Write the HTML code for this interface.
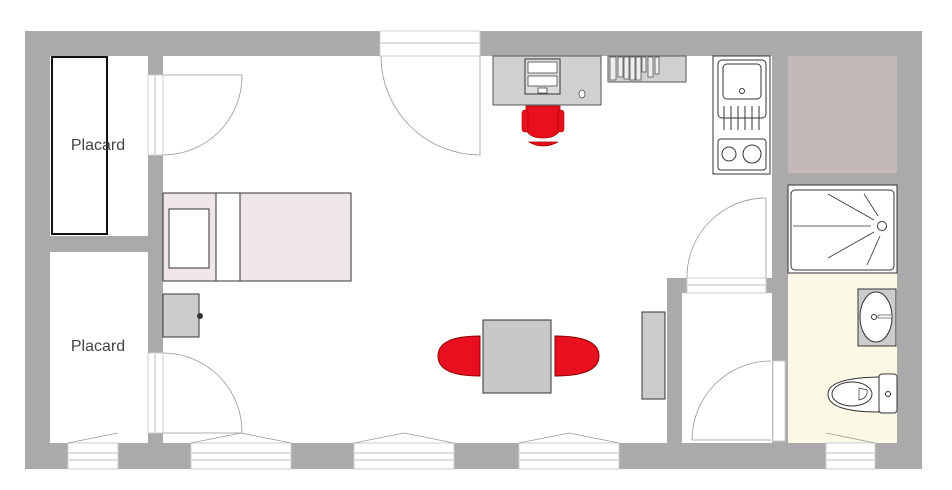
<!DOCTYPE html>
<html><head><meta charset="utf-8"><style>html,body{margin:0;padding:0;background:#fff;width:952px;height:490px;overflow:hidden}</style></head>
<body>
<svg width="952" height="490" viewBox="0 0 952 490" xmlns="http://www.w3.org/2000/svg" font-family="Liberation Sans, sans-serif">
<rect x="25" y="31" width="897" height="438" fill="#aaaaaa"/>
<rect x="50" y="56" width="847" height="387" fill="#fff"/>
<rect x="148" y="56" width="15" height="387" fill="#aaaaaa"/>
<rect x="50" y="236" width="98" height="16" fill="#aaaaaa"/>
<rect x="772" y="56" width="16" height="387" fill="#aaaaaa"/>
<rect x="667" y="278" width="15" height="165" fill="#aaaaaa"/>
<rect x="667" y="278" width="105" height="15" fill="#aaaaaa"/>
<rect x="788" y="56" width="109" height="117" fill="#c4b8b8"/>
<rect x="788" y="173" width="109" height="12" fill="#aaaaaa"/>
<rect x="788" y="273" width="109" height="170" fill="#fbf9e6"/>
<g fill="#fff" stroke="#ccc" stroke-width="1">
<rect x="380" y="31" width="100" height="25"/>
<rect x="148" y="75" width="15" height="80"/>
<rect x="148" y="353" width="15" height="80"/>
<rect x="687" y="278" width="79" height="15"/>
<rect x="773" y="361" width="12" height="80"/>
<rect x="68" y="443" width="50" height="26"/>
<rect x="191" y="443" width="100" height="26"/>
<rect x="354" y="443" width="100" height="26"/>
<rect x="519" y="443" width="100" height="26"/>
<rect x="826" y="443" width="49" height="26"/>
</g>
<g stroke="#ddd" stroke-width="2">
<line x1="380" y1="43" x2="480" y2="43"/>
<line x1="155" y1="75" x2="155" y2="155"/>
<line x1="155" y1="353" x2="155" y2="433"/>
<line x1="687" y1="285" x2="766" y2="285"/>
<line x1="68" y1="453" x2="118" y2="453"/><line x1="68" y1="460" x2="118" y2="460"/>
<line x1="191" y1="453" x2="291" y2="453"/><line x1="191" y1="460" x2="291" y2="460"/>
<line x1="354" y1="453" x2="454" y2="453"/><line x1="354" y1="460" x2="454" y2="460"/>
<line x1="519" y1="453" x2="619" y2="453"/><line x1="519" y1="460" x2="619" y2="460"/>
<line x1="826" y1="453" x2="875" y2="453"/><line x1="826" y1="460" x2="875" y2="460"/>
</g>
<g fill="none" stroke="#999" stroke-width="0.8">
<path d="M163 75 H242 A79 79 0 0 1 163 155"/>
<path d="M163 353 A79 79 0 0 1 242 433 H163"/>
<path d="M480 56 V155 A99 99 0 0 1 381 56"/>
<path d="M766 278 V198 A79 79 0 0 0 687 278"/>
<path d="M771 361 A79 79 0 0 0 692 440 H771"/>
<path d="M68 443 L118 433"/><path d="M191 443 L241 433 L291 443"/><path d="M354 443 L404 433 L454 443"/><path d="M519 443 L569 433 L619 443"/><path d="M826 433 L875 443"/>
</g>
<rect x="52" y="57" width="55" height="177" fill="none" stroke="#111" stroke-width="2"/>
<text x="98" y="150" font-size="16" fill="#444" text-anchor="middle">Placard</text>
<text x="98" y="351" font-size="16" fill="#444" text-anchor="middle">Placard</text>
<rect x="163" y="193" width="188" height="88" fill="#efe7e7" stroke="#333"/>
<rect x="216" y="193" width="24" height="88" fill="#fff" stroke="#333"/>
<rect x="169" y="209" width="40" height="59" fill="#fff" stroke="#333"/>
<rect x="163" y="294" width="36" height="43" fill="#ccc" stroke="#333"/>
<circle cx="200" cy="316" r="3" fill="#333"/>
<rect x="493" y="56" width="108" height="49" fill="#d0d0d0" stroke="#555"/>
<rect x="525" y="59" width="35" height="35" fill="#ddd" stroke="#333"/>
<rect x="528" y="62" width="29" height="11" fill="#fff" stroke="#333" stroke-width="0.7"/>
<rect x="528" y="76" width="29" height="10" fill="#fff" stroke="#333" stroke-width="0.7"/>
<rect x="538" y="88" width="9" height="5" fill="#fff" stroke="#333" stroke-width="0.7"/>
<ellipse cx="582" cy="94" rx="3" ry="4" fill="#fff" stroke="#333" stroke-width="0.7"/>
<path d="M526 106 H560 V130 Q556 138 543 138 Q530 138 526 130 Z" fill="#e8101e" stroke="#a00" stroke-width="0.8"/>
<rect x="522" y="110" width="6" height="22" rx="3" fill="#e8101e" stroke="#a00" stroke-width="0.6"/>
<rect x="558" y="110" width="6" height="22" rx="3" fill="#e8101e" stroke="#a00" stroke-width="0.6"/>
<path d="M529 142 Q543 150 558 142 Z" fill="#e8101e" stroke="#a00" stroke-width="0.8"/>
<rect x="608" y="56" width="78" height="26" fill="#d0d0d0" stroke="#555"/>
<g fill="#eee" stroke="#444" stroke-width="0.7">
<rect x="610" y="57" width="6" height="23"/><rect x="618" y="57" width="5" height="20"/><rect x="624" y="57" width="5" height="22"/><rect x="630" y="57" width="5" height="23"/><rect x="636" y="57" width="5" height="23"/><rect x="642" y="57" width="4" height="15"/><rect x="648" y="57" width="5" height="20"/><rect x="655" y="57" width="4" height="17"/>
</g>
<rect x="713" y="56" width="57" height="118" fill="#fff" stroke="#333"/>
<rect x="718" y="60" width="48" height="58" rx="4" fill="#fff" stroke="#333"/>
<rect x="723" y="64" width="38" height="35" rx="4" fill="#fff" stroke="#333"/>
<circle cx="742" cy="91" r="2.5" fill="none" stroke="#333"/>
<g stroke="#333"><line x1="724" y1="106" x2="724" y2="130"/><line x1="731" y1="106" x2="731" y2="130"/><line x1="738" y1="106" x2="738" y2="130"/><line x1="745" y1="106" x2="745" y2="130"/><line x1="752" y1="106" x2="752" y2="130"/><line x1="759" y1="106" x2="759" y2="130"/></g>
<rect x="718" y="139" width="48" height="31" rx="3" fill="#fff" stroke="#333"/>
<circle cx="729" cy="154" r="7" fill="none" stroke="#333"/>
<circle cx="752" cy="154" r="9" fill="none" stroke="#333"/>
<rect x="788" y="185" width="109" height="88" fill="#fff" stroke="#333"/>
<rect x="791" y="190" width="103" height="80" rx="4" fill="#fff" stroke="#333"/>
<g stroke="#333" stroke-width="0.8"><line x1="793" y1="226" x2="871" y2="226"/><line x1="828" y1="194" x2="874" y2="220"/><line x1="828" y1="258" x2="874" y2="232"/><line x1="864" y1="194" x2="878" y2="216"/><line x1="867" y1="265" x2="880" y2="236"/></g>
<circle cx="882" cy="226" r="4.5" fill="#fff" stroke="#333"/>
<rect x="858" y="289" width="38" height="57" fill="#ccc" stroke="#333"/>
<ellipse cx="876" cy="317" rx="16" ry="25" fill="#fff" stroke="#333"/>
<circle cx="874" cy="317" r="2.5" fill="#fff" stroke="#333"/>
<rect x="878" y="315" width="14" height="3" fill="#fff" stroke="#333" stroke-width="0.6"/>
<rect x="879" y="374" width="18" height="39" rx="3" fill="#fff" stroke="#333"/>
<circle cx="888" cy="394" r="2.5" fill="none" stroke="#333"/>
<path d="M879 377 Q828 378 828 394 Q828 412 879 412 Z" fill="#fff" stroke="#333"/>
<ellipse cx="852" cy="394" rx="20" ry="12" fill="#fff" stroke="#333"/>
<path d="M859 388 L859 400 Q868 398 867 390 Z" fill="#fff" stroke="#333" stroke-width="0.7"/>
<path d="M480 336 V376 Q438 376 438 356 Q438 336 480 336 Z" fill="#e8101e" stroke="#800"/>
<path d="M555 336 V376 Q599 376 599 356 Q599 336 555 336 Z" fill="#e8101e" stroke="#800"/>
<rect x="483" y="320" width="68" height="73" fill="#c8c8c8" stroke="#333"/>
<rect x="642" y="312" width="23" height="87" fill="#ccc" stroke="#333"/>
</svg>
</body></html>
